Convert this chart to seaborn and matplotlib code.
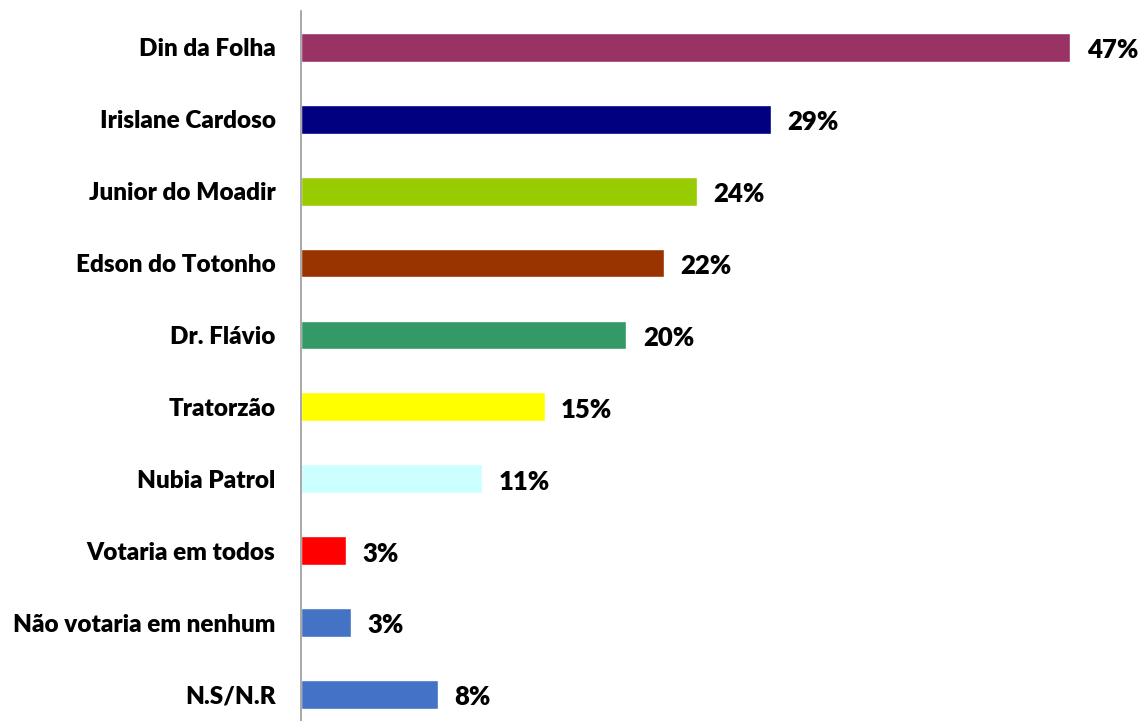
import matplotlib
matplotlib.use("Agg")
import matplotlib.pyplot as plt
import seaborn as sns
import pandas as pd

# dados
candidatos = ['Din da Folha', 'Irislane Cardoso', 'Junior do Moadir', 'Edson do Totonho',
              'Dr. Flávio', 'Tratorzão', 'Nubia Patrol', 'Votaria em todos',
              'Não votaria em nenhum', 'N.S/N.R']
valores = [47, 28.7, 24.2, 22.2, 19.9, 14.9, 11.1, 2.8, 3.1, 8.4]
rotulos = ['47%', '29%', '24%', '22%', '20%', '15%', '11%', '3%', '3%', '8%']
cores = ['#993366', '#000080', '#99CC00', '#993300', '#339966', '#FFFF00',
         '#CCFFFF', '#FF0000', '#4472C4', '#4472C4']

df = pd.DataFrame({'candidato': candidatos, 'valor': valores})

sns.set_style("white")
plt.rcParams['font.family'] = ['Lato', 'DejaVu Sans']

fig = plt.figure(figsize=(11.39, 7.21), dpi=100)
ax = fig.add_axes([300.5 / 1139, 0, 1 - 300.5 / 1139, 1 - 11.5 / 721])

sns.barplot(data=df, x='valor', y='candidato', hue='candidato', palette=cores,
            legend=False, width=0.4, ax=ax, saturation=1, orient='h')

for i, (v, r) in enumerate(zip(valores, rotulos)):
    ax.text(v + 1.0, i + 0.04, r, va='center', ha='left', fontsize=18.5,
            fontweight='heavy', color='black')

ax.set_xlim(0, 51.2)
ax.set_ylim(9.37, -0.5)
ax.set_xlabel('')
ax.set_ylabel('')
ax.set_xticks([])
ax.tick_params(axis='y', length=0, pad=18, labelcolor='black')
for lbl in ax.get_yticklabels():
    lbl.set_fontsize(17.5)
    lbl.set_fontweight('heavy')

for s in ['top', 'right', 'bottom']:
    ax.spines[s].set_visible(False)
ax.spines['left'].set_color('#999999')
ax.spines['left'].set_linewidth(1.2)

fig.savefig('out.png', dpi=100)
